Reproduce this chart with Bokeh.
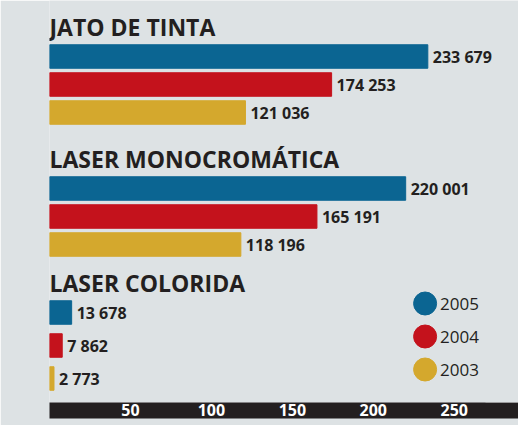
from bokeh.plotting import figure
from bokeh.models import Range1d, FixedTicker, ColumnDataSource, LabelSet, BoxAnnotation
from bokeh.core.properties import value
from bokeh.embed import file_html
from bokeh.resources import INLINE

# ---------------- data ----------------
categories = ["JATO DE TINTA", "LASER MONOCROMÁTICA", "LASER COLORIDA"]
years = ["2005", "2004", "2003"]
sales_2005 = [233679, 220001, 13678]
sales_2004 = [174253, 165191, 7862]
sales_2003 = [121036, 118196, 2773]
tick_values = [50, 100, 150, 200, 250]  # milhares
tick_labels = ["50", "100", "150", "200", "250"]

# ---------------- style ----------------
COLORS = ["#0b6592", "#c4121c", "#d4a82d"]
INK = "#231f20"
BG = "#dde2e4"
FONT = "Open Sans"

# ---------------- layout ----------------
W, H = 518, 425
LEFT = 49
BAND_H = 23
BAND_END = 485          # canvas px where the black scale band stops
FRAME_H = H - BAND_H
HEADER_BASE = [35, 167, 291]
FIRST_OFF = 21
PITCH = [28, 28, 33]
BAR_H = 23.5
PX_PER_K = 1.619
X_MAX = (W - LEFT) / PX_PER_K
LEGEND_X = 232
LEGEND_SHIFT = -9

p = figure(width=W, height=H, x_range=Range1d(0, X_MAX), y_range=Range1d(FRAME_H, 0),
           output_backend="svg", toolbar_location=None, y_axis_location=None,
           min_border_left=LEFT, min_border_right=0, min_border_top=0, min_border_bottom=BAND_H)
p.background_fill_color = BG
p.border_fill_color = BG
p.outline_line_color = None
p.grid.visible = False

def fmt(v):
    return f"{v:,}".replace(",", " ")

series = [sales_2005, sales_2004, sales_2003]
for j, (yr, vals, col) in enumerate(zip(years, series, COLORS)):
    ys = [HEADER_BASE[g] + FIRST_OFF + j * PITCH[g] for g in range(len(categories))]
    src = ColumnDataSource(dict(y=ys, right=[v / 1000 for v in vals], label=[fmt(v) for v in vals]))
    p.hbar(y="y", left=0, right="right", height=BAR_H, color=col, source=src)
    p.add_layout(LabelSet(x="right", y="y", text="label", source=src, x_offset=5,
                          text_baseline="middle", text_font=value(FONT), text_font_style="bold",
                          text_font_size="16px", text_color=INK))
    # legend entry, aligned with the last group's rows
    lsrc = ColumnDataSource(dict(x=[LEGEND_X], y=[ys[-1] + LEGEND_SHIFT], label=[yr]))
    p.scatter(x="x", y="y", size=23, color=col, source=lsrc)
    p.add_layout(LabelSet(x="x", y="y", text="label", source=lsrc, x_offset=15,
                          text_baseline="middle", text_font=value(FONT),
                          text_font_size="17px", text_color=INK))

hsrc = ColumnDataSource(dict(x=[0] * len(categories), y=HEADER_BASE, label=categories))
p.add_layout(LabelSet(x="x", y="y", text="label", source=hsrc, text_baseline="alphabetic",
                      text_font=value(FONT), text_font_style="bold", text_font_size="23px",
                      text_color=INK))

ax = p.xaxis[0]
ax.ticker = FixedTicker(ticks=tick_values)
ax.major_label_overrides = {v: l for v, l in zip(tick_values, tick_labels)}
ax.major_label_text_color = "white"
ax.major_label_text_font = FONT
ax.major_label_text_font_style = "bold"
ax.major_label_text_font_size = "16px"
ax.major_label_standoff = 1
ax.major_tick_line_color = None
ax.minor_tick_line_color = None
ax.major_tick_out = 0
ax.major_tick_in = 0
ax.axis_line_color = None
ax.background_fill_color = INK

# trim the scale band so it stops short of the right edge
p.add_layout(BoxAnnotation(left=BAND_END, right=W, top=FRAME_H, bottom=H,
                           left_units="canvas", right_units="canvas",
                           top_units="canvas", bottom_units="canvas",
                           fill_color=BG, fill_alpha=1, line_color=None, level="overlay"))

open("out.html", "w").write(file_html(p, INLINE))
